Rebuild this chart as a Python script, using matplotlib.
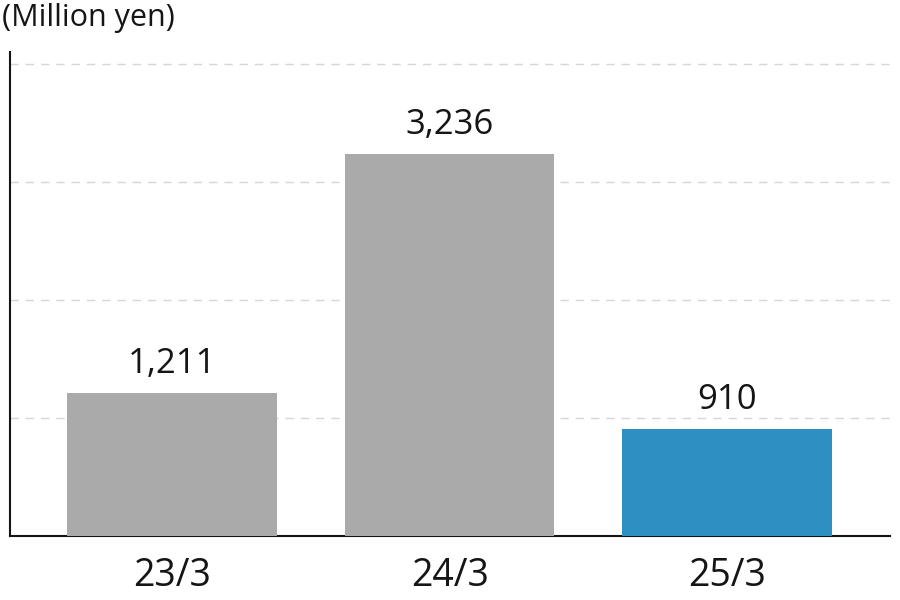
import matplotlib
matplotlib.use("Agg")
import matplotlib.pyplot as plt

categories = ["23/3", "24/3", "25/3"]
values = [1211, 3236, 910]
labels = ["1,211", "3,236", "910"]
colors = ["#aaaaaa", "#aaaaaa", "#2e90c2"]

plt.rcParams['font.family'] = ['Open Sans', 'Noto Sans', 'DejaVu Sans']

fig = plt.figure(figsize=(9, 6), dpi=100)
ax = fig.add_axes([10/900, 64/600, 880/900, 484/600])
x = list(range(len(categories)))
ax.bar(x, values, width=0.755, color=colors, zorder=3)
for xi, v, lab in zip(x, values, labels):
    ax.text(xi, v + 100, lab, ha='center', va='bottom', fontsize=25, color='#151515')
ax.set_xlim(-0.583, 2.586)
ax.set_ylim(0, 4100)
ax.set_yticks([1000, 2000, 3000, 4000])
ax.yaxis.grid(True, linestyle=(0, (6, 5)), color='#d6d6d6', linewidth=1, zorder=0)
ax.tick_params(axis='y', length=0, labelleft=False)
ax.set_xticks(x)
ax.set_xticklabels(categories, fontsize=27, color='#151515')
ax.tick_params(axis='x', length=0, pad=15)
for s in ['top', 'right']:
    ax.spines[s].set_visible(False)
for s in ['left', 'bottom']:
    ax.spines[s].set_linewidth(1.5)
    ax.spines[s].set_color('#151515')
fig.text(2/900, 1 - 3/600, "(Million yen)", ha='left', va='top', fontsize=22, color='#151515')
fig.savefig("out.png", dpi=100)
